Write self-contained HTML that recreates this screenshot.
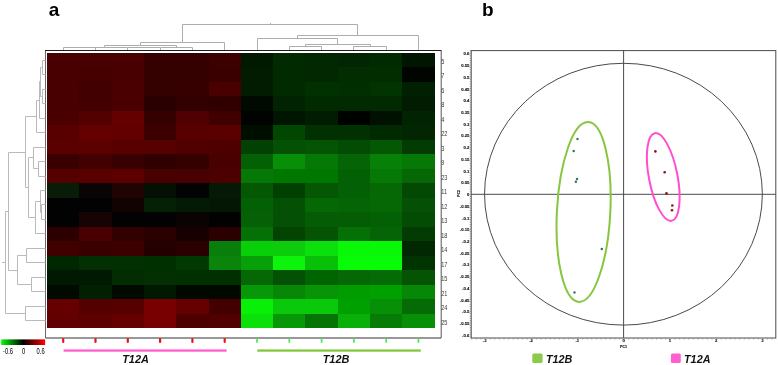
<!DOCTYPE html>
<html lang="en"><head><meta charset="utf-8"><title>Figure</title>
<style>html,body{margin:0;padding:0;background:#fff}body{width:778px;height:365px;overflow:hidden}svg{display:block}text{font-family:"Liberation Sans",sans-serif}</style>
</head><body>
<svg width="778" height="365" viewBox="0 0 778 365">
<defs><linearGradient id="cb" x1="0" x2="1" y1="0" y2="0"><stop offset="0" stop-color="#00ff00"/><stop offset="0.5" stop-color="#000000"/><stop offset="1" stop-color="#ff0000"/></linearGradient></defs>
<rect x="0" y="0" width="778" height="365" fill="#ffffff"/>
<text x="48.7" y="15.6" font-size="19" font-weight="bold" fill="#000">a</text>
<text x="481.9" y="15.6" font-size="19" font-weight="bold" fill="#000">b</text>
<g shape-rendering="crispEdges">
<rect x="47" y="53" width="32" height="14" fill="#480000"/>
<rect x="79" y="53" width="33" height="14" fill="#480000"/>
<rect x="112" y="53" width="32" height="14" fill="#4a0000"/>
<rect x="144" y="53" width="32" height="14" fill="#340000"/>
<rect x="176" y="53" width="33" height="14" fill="#340000"/>
<rect x="209" y="53" width="32" height="14" fill="#3c0000"/>
<rect x="241" y="53" width="32" height="14" fill="#011801"/>
<rect x="273" y="53" width="32" height="14" fill="#012a01"/>
<rect x="305" y="53" width="33" height="14" fill="#012801"/>
<rect x="338" y="53" width="32" height="14" fill="#012601"/>
<rect x="370" y="53" width="32" height="14" fill="#012a01"/>
<rect x="402" y="53" width="33" height="14" fill="#011601"/>
<rect x="47" y="67" width="32" height="15" fill="#480000"/>
<rect x="79" y="67" width="33" height="15" fill="#470000"/>
<rect x="112" y="67" width="32" height="15" fill="#480000"/>
<rect x="144" y="67" width="32" height="15" fill="#340000"/>
<rect x="176" y="67" width="33" height="15" fill="#340000"/>
<rect x="209" y="67" width="32" height="15" fill="#3a0000"/>
<rect x="241" y="67" width="32" height="15" fill="#011c01"/>
<rect x="273" y="67" width="32" height="15" fill="#012a01"/>
<rect x="305" y="67" width="33" height="15" fill="#012801"/>
<rect x="338" y="67" width="32" height="15" fill="#012d01"/>
<rect x="370" y="67" width="32" height="15" fill="#012d01"/>
<rect x="402" y="67" width="33" height="15" fill="#000500"/>
<rect x="47" y="82" width="32" height="14" fill="#480000"/>
<rect x="79" y="82" width="33" height="14" fill="#420000"/>
<rect x="112" y="82" width="32" height="14" fill="#4a0000"/>
<rect x="144" y="82" width="32" height="14" fill="#340000"/>
<rect x="176" y="82" width="33" height="14" fill="#360000"/>
<rect x="209" y="82" width="32" height="14" fill="#480000"/>
<rect x="241" y="82" width="32" height="14" fill="#011c01"/>
<rect x="273" y="82" width="32" height="14" fill="#012a01"/>
<rect x="305" y="82" width="33" height="14" fill="#013101"/>
<rect x="338" y="82" width="32" height="14" fill="#012f01"/>
<rect x="370" y="82" width="32" height="14" fill="#013401"/>
<rect x="402" y="82" width="33" height="14" fill="#011f01"/>
<rect x="47" y="96" width="32" height="15" fill="#480000"/>
<rect x="79" y="96" width="33" height="15" fill="#420000"/>
<rect x="112" y="96" width="32" height="15" fill="#4a0000"/>
<rect x="144" y="96" width="32" height="15" fill="#2a0000"/>
<rect x="176" y="96" width="33" height="15" fill="#320000"/>
<rect x="209" y="96" width="32" height="15" fill="#300000"/>
<rect x="241" y="96" width="32" height="15" fill="#000a00"/>
<rect x="273" y="96" width="32" height="15" fill="#012301"/>
<rect x="305" y="96" width="33" height="15" fill="#012a01"/>
<rect x="338" y="96" width="32" height="15" fill="#012a01"/>
<rect x="370" y="96" width="32" height="15" fill="#012a01"/>
<rect x="402" y="96" width="33" height="15" fill="#011c01"/>
<rect x="47" y="111" width="32" height="14" fill="#4a0000"/>
<rect x="79" y="111" width="33" height="14" fill="#520000"/>
<rect x="112" y="111" width="32" height="14" fill="#640000"/>
<rect x="144" y="111" width="32" height="14" fill="#340000"/>
<rect x="176" y="111" width="33" height="14" fill="#500000"/>
<rect x="209" y="111" width="32" height="14" fill="#400000"/>
<rect x="241" y="111" width="32" height="14" fill="#000300"/>
<rect x="273" y="111" width="32" height="14" fill="#011601"/>
<rect x="305" y="111" width="33" height="14" fill="#011c01"/>
<rect x="338" y="111" width="32" height="14" fill="#000200"/>
<rect x="370" y="111" width="32" height="14" fill="#011101"/>
<rect x="402" y="111" width="33" height="14" fill="#012301"/>
<rect x="47" y="125" width="32" height="15" fill="#580000"/>
<rect x="79" y="125" width="33" height="15" fill="#640000"/>
<rect x="112" y="125" width="32" height="15" fill="#620000"/>
<rect x="144" y="125" width="32" height="15" fill="#3c0000"/>
<rect x="176" y="125" width="33" height="15" fill="#580000"/>
<rect x="209" y="125" width="32" height="15" fill="#5a0000"/>
<rect x="241" y="125" width="32" height="15" fill="#000e00"/>
<rect x="273" y="125" width="32" height="15" fill="#014601"/>
<rect x="305" y="125" width="33" height="15" fill="#013101"/>
<rect x="338" y="125" width="32" height="15" fill="#013101"/>
<rect x="370" y="125" width="32" height="15" fill="#012a01"/>
<rect x="402" y="125" width="33" height="15" fill="#012601"/>
<rect x="47" y="140" width="32" height="14" fill="#5a0000"/>
<rect x="79" y="140" width="33" height="14" fill="#5c0000"/>
<rect x="112" y="140" width="32" height="14" fill="#580000"/>
<rect x="144" y="140" width="32" height="14" fill="#560000"/>
<rect x="176" y="140" width="33" height="14" fill="#500000"/>
<rect x="209" y="140" width="32" height="14" fill="#4e0000"/>
<rect x="241" y="140" width="32" height="14" fill="#034003"/>
<rect x="273" y="140" width="32" height="14" fill="#045004"/>
<rect x="305" y="140" width="33" height="14" fill="#045404"/>
<rect x="338" y="140" width="32" height="14" fill="#034c03"/>
<rect x="370" y="140" width="32" height="14" fill="#045804"/>
<rect x="402" y="140" width="33" height="14" fill="#033c03"/>
<rect x="47" y="154" width="32" height="15" fill="#3a0000"/>
<rect x="79" y="154" width="33" height="15" fill="#420000"/>
<rect x="112" y="154" width="32" height="15" fill="#380000"/>
<rect x="144" y="154" width="32" height="15" fill="#300000"/>
<rect x="176" y="154" width="33" height="15" fill="#340000"/>
<rect x="209" y="154" width="32" height="15" fill="#480000"/>
<rect x="241" y="154" width="32" height="15" fill="#046004"/>
<rect x="273" y="154" width="32" height="15" fill="#079007"/>
<rect x="305" y="154" width="33" height="15" fill="#067806"/>
<rect x="338" y="154" width="32" height="15" fill="#056405"/>
<rect x="370" y="154" width="32" height="15" fill="#068006"/>
<rect x="402" y="154" width="33" height="15" fill="#067806"/>
<rect x="47" y="169" width="32" height="14" fill="#540000"/>
<rect x="79" y="169" width="33" height="14" fill="#580000"/>
<rect x="112" y="169" width="32" height="14" fill="#5c0000"/>
<rect x="144" y="169" width="32" height="14" fill="#480000"/>
<rect x="176" y="169" width="33" height="14" fill="#480000"/>
<rect x="209" y="169" width="32" height="14" fill="#4c0000"/>
<rect x="241" y="169" width="32" height="14" fill="#067806"/>
<rect x="273" y="169" width="32" height="14" fill="#007800"/>
<rect x="305" y="169" width="33" height="14" fill="#007800"/>
<rect x="338" y="169" width="32" height="14" fill="#046004"/>
<rect x="370" y="169" width="32" height="14" fill="#067806"/>
<rect x="402" y="169" width="33" height="14" fill="#056805"/>
<rect x="47" y="183" width="32" height="15" fill="#081c08"/>
<rect x="79" y="183" width="33" height="15" fill="#0a0404"/>
<rect x="112" y="183" width="32" height="15" fill="#200404"/>
<rect x="144" y="183" width="32" height="15" fill="#041004"/>
<rect x="176" y="183" width="33" height="15" fill="#030303"/>
<rect x="209" y="183" width="32" height="15" fill="#061806"/>
<rect x="241" y="183" width="32" height="15" fill="#045804"/>
<rect x="273" y="183" width="32" height="15" fill="#004000"/>
<rect x="305" y="183" width="33" height="15" fill="#045804"/>
<rect x="338" y="183" width="32" height="15" fill="#046004"/>
<rect x="370" y="183" width="32" height="15" fill="#056805"/>
<rect x="402" y="183" width="33" height="15" fill="#034803"/>
<rect x="47" y="198" width="32" height="14" fill="#020202"/>
<rect x="79" y="198" width="33" height="14" fill="#030202"/>
<rect x="112" y="198" width="32" height="14" fill="#120303"/>
<rect x="144" y="198" width="32" height="14" fill="#052005"/>
<rect x="176" y="198" width="33" height="14" fill="#041a04"/>
<rect x="209" y="198" width="32" height="14" fill="#041604"/>
<rect x="241" y="198" width="32" height="14" fill="#046004"/>
<rect x="273" y="198" width="32" height="14" fill="#045004"/>
<rect x="305" y="198" width="33" height="14" fill="#056805"/>
<rect x="338" y="198" width="32" height="14" fill="#056405"/>
<rect x="370" y="198" width="32" height="14" fill="#056805"/>
<rect x="402" y="198" width="33" height="14" fill="#045004"/>
<rect x="47" y="212" width="32" height="15" fill="#020202"/>
<rect x="79" y="212" width="33" height="15" fill="#160303"/>
<rect x="112" y="212" width="32" height="15" fill="#030202"/>
<rect x="144" y="212" width="32" height="15" fill="#020202"/>
<rect x="176" y="212" width="33" height="15" fill="#0a0303"/>
<rect x="209" y="212" width="32" height="15" fill="#030202"/>
<rect x="241" y="212" width="32" height="15" fill="#066006"/>
<rect x="273" y="212" width="32" height="15" fill="#045004"/>
<rect x="305" y="212" width="33" height="15" fill="#045c04"/>
<rect x="338" y="212" width="32" height="15" fill="#045c04"/>
<rect x="370" y="212" width="32" height="15" fill="#046004"/>
<rect x="402" y="212" width="33" height="15" fill="#034c03"/>
<rect x="47" y="227" width="32" height="14" fill="#2c0000"/>
<rect x="79" y="227" width="33" height="14" fill="#480000"/>
<rect x="112" y="227" width="32" height="14" fill="#320000"/>
<rect x="144" y="227" width="32" height="14" fill="#2a0000"/>
<rect x="176" y="227" width="33" height="14" fill="#180000"/>
<rect x="209" y="227" width="32" height="14" fill="#2a0000"/>
<rect x="241" y="227" width="32" height="14" fill="#057005"/>
<rect x="273" y="227" width="32" height="14" fill="#034403"/>
<rect x="305" y="227" width="33" height="14" fill="#045404"/>
<rect x="338" y="227" width="32" height="14" fill="#057005"/>
<rect x="370" y="227" width="32" height="14" fill="#056405"/>
<rect x="402" y="227" width="33" height="14" fill="#033c03"/>
<rect x="47" y="241" width="32" height="15" fill="#400000"/>
<rect x="79" y="241" width="33" height="15" fill="#3a0000"/>
<rect x="112" y="241" width="32" height="15" fill="#3c0000"/>
<rect x="144" y="241" width="32" height="15" fill="#240000"/>
<rect x="176" y="241" width="33" height="15" fill="#2a0000"/>
<rect x="209" y="241" width="32" height="15" fill="#0a7e0a"/>
<rect x="241" y="241" width="32" height="15" fill="#08d008"/>
<rect x="273" y="241" width="32" height="15" fill="#0ccc0c"/>
<rect x="305" y="241" width="33" height="15" fill="#0ce00c"/>
<rect x="338" y="241" width="32" height="15" fill="#08f808"/>
<rect x="370" y="241" width="32" height="15" fill="#08f808"/>
<rect x="402" y="241" width="33" height="15" fill="#022802"/>
<rect x="47" y="256" width="32" height="14" fill="#002800"/>
<rect x="79" y="256" width="33" height="14" fill="#023002"/>
<rect x="112" y="256" width="32" height="14" fill="#023002"/>
<rect x="144" y="256" width="32" height="14" fill="#003000"/>
<rect x="176" y="256" width="33" height="14" fill="#023802"/>
<rect x="209" y="256" width="32" height="14" fill="#0a840a"/>
<rect x="241" y="256" width="32" height="14" fill="#08a008"/>
<rect x="273" y="256" width="32" height="14" fill="#0cf40c"/>
<rect x="305" y="256" width="33" height="14" fill="#09c009"/>
<rect x="338" y="256" width="32" height="14" fill="#08fc08"/>
<rect x="370" y="256" width="32" height="14" fill="#08fc08"/>
<rect x="402" y="256" width="33" height="14" fill="#023402"/>
<rect x="47" y="270" width="32" height="15" fill="#011801"/>
<rect x="79" y="270" width="33" height="15" fill="#011801"/>
<rect x="112" y="270" width="32" height="15" fill="#022c02"/>
<rect x="144" y="270" width="32" height="15" fill="#023002"/>
<rect x="176" y="270" width="33" height="15" fill="#003000"/>
<rect x="209" y="270" width="32" height="15" fill="#003000"/>
<rect x="241" y="270" width="32" height="15" fill="#056805"/>
<rect x="273" y="270" width="32" height="15" fill="#045004"/>
<rect x="305" y="270" width="33" height="15" fill="#006400"/>
<rect x="338" y="270" width="32" height="15" fill="#056805"/>
<rect x="370" y="270" width="32" height="15" fill="#056c05"/>
<rect x="402" y="270" width="33" height="15" fill="#045404"/>
<rect x="47" y="285" width="32" height="14" fill="#000a00"/>
<rect x="79" y="285" width="33" height="14" fill="#012001"/>
<rect x="112" y="285" width="32" height="14" fill="#000a00"/>
<rect x="144" y="285" width="32" height="14" fill="#011801"/>
<rect x="176" y="285" width="33" height="14" fill="#000800"/>
<rect x="209" y="285" width="32" height="14" fill="#000800"/>
<rect x="241" y="285" width="32" height="14" fill="#079807"/>
<rect x="273" y="285" width="32" height="14" fill="#068806"/>
<rect x="305" y="285" width="33" height="14" fill="#079407"/>
<rect x="338" y="285" width="32" height="14" fill="#009c00"/>
<rect x="370" y="285" width="32" height="14" fill="#00a000"/>
<rect x="402" y="285" width="33" height="14" fill="#068806"/>
<rect x="47" y="299" width="32" height="15" fill="#660000"/>
<rect x="79" y="299" width="33" height="15" fill="#540000"/>
<rect x="112" y="299" width="32" height="15" fill="#560000"/>
<rect x="144" y="299" width="32" height="15" fill="#780000"/>
<rect x="176" y="299" width="33" height="15" fill="#640000"/>
<rect x="209" y="299" width="32" height="15" fill="#440000"/>
<rect x="241" y="299" width="32" height="15" fill="#08f008"/>
<rect x="273" y="299" width="32" height="15" fill="#0ac80a"/>
<rect x="305" y="299" width="33" height="15" fill="#0ac80a"/>
<rect x="338" y="299" width="32" height="15" fill="#00a000"/>
<rect x="370" y="299" width="32" height="15" fill="#079007"/>
<rect x="402" y="299" width="33" height="15" fill="#056c05"/>
<rect x="47" y="314" width="32" height="14" fill="#600000"/>
<rect x="79" y="314" width="33" height="14" fill="#5c0000"/>
<rect x="112" y="314" width="32" height="14" fill="#640000"/>
<rect x="144" y="314" width="32" height="14" fill="#780000"/>
<rect x="176" y="314" width="33" height="14" fill="#4c0000"/>
<rect x="209" y="314" width="32" height="14" fill="#500000"/>
<rect x="241" y="314" width="32" height="14" fill="#0be00b"/>
<rect x="273" y="314" width="32" height="14" fill="#079807"/>
<rect x="305" y="314" width="33" height="14" fill="#057405"/>
<rect x="338" y="314" width="32" height="14" fill="#08b008"/>
<rect x="370" y="314" width="32" height="14" fill="#067c06"/>
<rect x="402" y="314" width="33" height="14" fill="#079007"/>
</g>
<g fill="none" stroke-width="1">
<path d="M45.5 338 V50.5" stroke="#6a6a6a"/>
<path d="M45 50.5 H441.5" stroke="#1a1a1a"/>
<path d="M45.5 338 H441" stroke="#333"/>
<path d="M441.2 50.5 V338" stroke="#555"/>
</g>
<g font-size="7" fill="#3a3a3a">
<text transform="translate(441.2 63.9) scale(0.8 1)">5</text>
<text transform="translate(441.2 78.4) scale(0.8 1)">7</text>
<text transform="translate(441.2 92.9) scale(0.8 1)">6</text>
<text transform="translate(441.2 107.4) scale(0.8 1)">8</text>
<text transform="translate(441.2 121.8) scale(0.8 1)">4</text>
<text transform="translate(441.2 136.3) scale(0.8 1)">22</text>
<text transform="translate(441.2 150.8) scale(0.8 1)">3</text>
<text transform="translate(441.2 165.3) scale(0.8 1)">9</text>
<text transform="translate(441.2 179.7) scale(0.8 1)">23</text>
<text transform="translate(441.2 194.2) scale(0.8 1)">11</text>
<text transform="translate(441.2 208.7) scale(0.8 1)">12</text>
<text transform="translate(441.2 223.1) scale(0.8 1)">13</text>
<text transform="translate(441.2 237.6) scale(0.8 1)">18</text>
<text transform="translate(441.2 252.1) scale(0.8 1)">14</text>
<text transform="translate(441.2 266.6) scale(0.8 1)">17</text>
<text transform="translate(441.2 281.0) scale(0.8 1)">15</text>
<text transform="translate(441.2 295.5) scale(0.8 1)">21</text>
<text transform="translate(441.2 310.0) scale(0.8 1)">24</text>
<text transform="translate(441.2 324.5) scale(0.8 1)">25</text>
</g>
<path d="M63.5 50.0 V47.5 H95.5 V50.0 M79.5 47.4 V47.5 H127.5 V50.0 M160.5 50.0 V47.5 H192.5 V50.0 M104.5 47.0 V45.5 H176.5 V47.5 M140.5 45.7 V42.5 H224.5 V50.0 M289.5 50.0 V46.5 H321.5 V50.0 M353.5 50.0 V46.5 H386.5 V50.0 M305.5 46.2 V44.5 H370.5 V46.2 M257.5 50.0 V38.5 H337.5 V44.4 M297.5 38.5 V35.5 H418.5 V50.0 M182.5 42.4 V24.5 H357.5 V35.4 M270.5 24.5 V23 M128 47.5 H160" fill="none" stroke="#adadad" stroke-width="1"/>
<path d="M45.5 60.5 H42.5 V74.5 H45.5 M45.5 89.5 H42.5 V103.5 H45.5 M42.5 67.5 H40.5 V96.5 H42.5 M40.8 81.5 H39.5 V118.5 H45.5 M39.0 100.5 H36.5 V132.5 H45.5 M45.5 161.5 H38.5 V176.5 H45.5 M45.5 147.5 H33.5 V168.5 H38.4 M45.5 204.5 H41.5 V219.5 H45.5 M45.5 190.5 H40.5 V212.5 H41.3 M40.0 201.5 H35.5 V233.5 H45.5 M33.6 157.5 H28.5 V217.5 H35.5 M36.8 116.5 H25.5 V187.5 H28.4 M45.5 248.5 H26.5 V262.5 H45.5 M45.5 277.5 H31.5 V291.5 H45.5 M26.5 255.5 H17.5 V284.5 H31.7 M25.5 152.5 H8.5 V270.5 H17.3 M45.5 306.5 H25.5 V320.5 H45.5 M8.0 211.5 H5.5 V313.5 H25.5 M5.5 262.5 H2" fill="none" stroke="#bababa" stroke-width="1"/>
<rect x="1.2" y="339.4" width="43.9" height="5.6" fill="url(#cb)"/>
<g font-size="8.8" fill="#000">
<text transform="translate(8 353.9) scale(0.66 1)" text-anchor="middle">-0.6</text>
<text transform="translate(23.5 353.9) scale(0.66 1)" text-anchor="middle">0</text>
<text transform="translate(40.6 353.9) scale(0.66 1)" text-anchor="middle">0.6</text>
</g>
<path d="M63.2 339 V342" stroke="#ee1111" stroke-width="2.2" stroke-linecap="round"/>
<path d="M95.5 339 V342" stroke="#ee1111" stroke-width="2.2" stroke-linecap="round"/>
<path d="M127.8 339 V342" stroke="#ee1111" stroke-width="2.2" stroke-linecap="round"/>
<path d="M160.1 339 V342" stroke="#ee1111" stroke-width="2.2" stroke-linecap="round"/>
<path d="M192.4 339 V342" stroke="#ee1111" stroke-width="2.2" stroke-linecap="round"/>
<path d="M224.7 339 V342" stroke="#ee1111" stroke-width="2.2" stroke-linecap="round"/>
<path d="M257.0 339 V342" stroke="#44ee44" stroke-width="1.7" stroke-linecap="round"/>
<path d="M289.3 339 V342" stroke="#44ee44" stroke-width="1.7" stroke-linecap="round"/>
<path d="M321.6 339 V342" stroke="#44ee44" stroke-width="1.7" stroke-linecap="round"/>
<path d="M353.9 339 V342" stroke="#44ee44" stroke-width="1.7" stroke-linecap="round"/>
<path d="M386.2 339 V342" stroke="#44ee44" stroke-width="1.7" stroke-linecap="round"/>
<path d="M418.5 339 V342" stroke="#44ee44" stroke-width="1.7" stroke-linecap="round"/>
<rect x="63.6" y="349.4" width="163" height="2.3" fill="#ff5fcf"/>
<rect x="257.3" y="349.4" width="163.5" height="2.3" fill="#84c63c"/>
<g font-size="11.4" font-weight="bold" font-style="italic" fill="#111" text-anchor="middle">
<text transform="translate(135.5 362.8) scale(0.96 1)">T12A</text>
<text transform="translate(336 362.8) scale(0.96 1)">T12B</text>
</g>
<g fill="none" stroke="#4a4a4a" stroke-width="1">
<rect x="471.2" y="50.6" width="304.6" height="287.4"/>
<path d="M623.6 50.6 V338.0 M471.2 194.3 H775.8"/>
<ellipse cx="623.45" cy="194.2" rx="138.9" ry="130.9"/>
</g>
<g font-size="4.2" font-weight="bold" fill="#111" stroke="#111" stroke-width="0.12" text-anchor="end">
<text x="469.3" y="55.4">0.6</text>
<text x="469.3" y="67.1">0.55</text>
<text x="469.3" y="78.8">0.5</text>
<text x="469.3" y="90.6">0.45</text>
<text x="469.3" y="102.3">0.4</text>
<text x="469.3" y="114.0">0.35</text>
<text x="469.3" y="125.7">0.3</text>
<text x="469.3" y="137.4">0.25</text>
<text x="469.3" y="149.2">0.2</text>
<text x="469.3" y="160.9">0.15</text>
<text x="469.3" y="172.6">0.1</text>
<text x="469.3" y="184.3">0.05</text>
<text x="469.3" y="196.0">0</text>
<text x="469.3" y="207.8">-0.05</text>
<text x="469.3" y="219.5">-0.1</text>
<text x="469.3" y="231.2">-0.15</text>
<text x="469.3" y="242.9">-0.2</text>
<text x="469.3" y="254.6">-0.25</text>
<text x="469.3" y="266.4">-0.3</text>
<text x="469.3" y="278.1">-0.35</text>
<text x="469.3" y="289.8">-0.4</text>
<text x="469.3" y="301.5">-0.45</text>
<text x="469.3" y="313.2">-0.5</text>
<text x="469.3" y="325.0">-0.55</text>
<text x="469.3" y="336.7">-0.6</text>
</g>
<g font-size="4.2" font-weight="bold" fill="#111" stroke="#111" stroke-width="0.12" text-anchor="middle">
<text x="484.7" y="342.3">-3</text>
<text x="531.0" y="342.3">-2</text>
<text x="577.3" y="342.3">-1</text>
<text x="623.6" y="342.3">0</text>
<text x="669.9" y="342.3">1</text>
<text x="716.2" y="342.3">2</text>
<text x="762.5" y="342.3">3</text>
<text x="623.6" y="347.8" font-size="3.6">PC1</text>
<text transform="translate(460 193.5) rotate(-90)" font-size="3.6">PC2</text>
</g>
<path d="M470.3 50.6 V338.0" stroke="#777" stroke-width="1" stroke-dasharray="1 1.344" fill="none"/>
<path d="M471.2 338.9 H775.8" stroke="#888" stroke-width="1" stroke-dasharray="1 3.62" fill="none"/>
<ellipse cx="583.6" cy="212.0" rx="26.7" ry="90.0" transform="rotate(3 583.6 212.0)" fill="none" stroke="#88c63f" stroke-width="2"/>
<ellipse cx="663.25" cy="177" rx="14.3" ry="44.6" transform="rotate(-10.9 663.25 177)" fill="none" stroke="#ff4fd0" stroke-width="2"/>
<circle cx="577.5" cy="139" r="1.2" fill="#2f6f5a"/>
<circle cx="573.7" cy="151" r="1.2" fill="#2f6f5a"/>
<circle cx="577" cy="179" r="1.2" fill="#2f6f5a"/>
<circle cx="575.9" cy="181.7" r="1.2" fill="#2f6f5a"/>
<circle cx="601.8" cy="249" r="1.2" fill="#2f6f5a"/>
<circle cx="574.5" cy="292.4" r="1.2" fill="#2f6f5a"/>
<circle cx="655.4" cy="151.4" r="1.3" fill="#8a1515"/>
<circle cx="664.7" cy="172.2" r="1.3" fill="#8a1515"/>
<circle cx="666.5" cy="193.4" r="1.3" fill="#8a1515"/>
<circle cx="672.3" cy="205.5" r="1.3" fill="#8a1515"/>
<circle cx="672" cy="210.3" r="1.3" fill="#8a1515"/>
<rect x="532.3" y="353.4" width="10.3" height="9.5" rx="1.5" fill="#8ccb4a"/>
<rect x="670.9" y="353.4" width="9.9" height="9.5" rx="1.5" fill="#ff5fcf"/>
<g font-size="11.4" font-weight="bold" font-style="italic" fill="#111">
<text transform="translate(546 362.8) scale(0.945 1)">T12B</text>
<text transform="translate(684 362.8) scale(0.95 1)">T12A</text>
</g>
</svg>
</body></html>
